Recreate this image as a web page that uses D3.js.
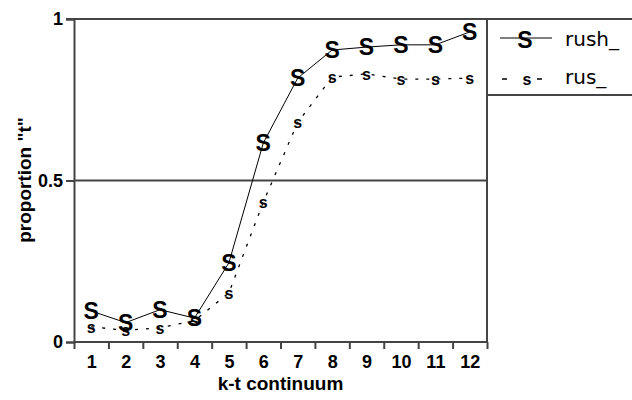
<!DOCTYPE html>
<html>
<head>
<meta charset="utf-8">
<script src="https://cdn.jsdelivr.net/npm/d3@7"></script>
<style>
  html, body { margin: 0; padding: 0; background: #fff; }
  svg { display: block; }
  .tick text { font-family: "Liberation Sans", Arial, sans-serif; font-weight: bold; font-size: 18px; fill: #000; }
</style>
</head>
<body>
<svg id="chart" width="632" height="400"></svg>
<script>
// Continuum steps and identification proportions for each word
const steps = [1, 2, 3, 4, 5, 6, 7, 8, 9, 10, 11, 12];
const rush = [0.096, 0.06, 0.10, 0.074, 0.245, 0.616, 0.817, 0.904, 0.913, 0.92, 0.92, 0.96];
const rus  = [0.047, 0.036, 0.044, 0.066, 0.152, 0.433, 0.68, 0.82, 0.83, 0.814, 0.814, 0.817];
const yTicks = [0, 0.5, 1];
const seriesNames = ["rush_", "rus_"];

const svg = d3.select("#chart");
const plotLeft = 74, plotRight = 487, plotTop = 19, plotBottom = 342;
const axisColor = "#444";
const bold = "'Liberation Sans', Arial, sans-serif";

const x = d3.scaleLinear().domain([0.5, 12.5]).range([plotLeft, plotRight]);
const y = d3.scaleLinear().domain([0, 1]).range([plotBottom, plotTop]);

// Frame: top rule runs across the legend, right border, legend bottom
svg.append("line").attr("x1", plotLeft - 8).attr("x2", 632).attr("y1", plotTop).attr("y2", plotTop)
  .attr("stroke", axisColor).attr("stroke-width", 2);
svg.append("line").attr("x1", plotRight).attr("x2", plotRight).attr("y1", plotTop).attr("y2", plotBottom)
  .attr("stroke", axisColor).attr("stroke-width", 2);
svg.append("line").attr("x1", plotRight).attr("x2", 632).attr("y1", 95).attr("y2", 95)
  .attr("stroke", axisColor).attr("stroke-width", 2);
// Midline at 0.5
svg.append("line").attr("x1", plotLeft).attr("x2", plotRight).attr("y1", y(0.5)).attr("y2", y(0.5))
  .attr("stroke", axisColor).attr("stroke-width", 2);

// Y axis
const yAxis = svg.append("g").attr("transform", `translate(${plotLeft},0)`)
  .call(d3.axisLeft(y).tickValues(yTicks).tickSize(8).tickPadding(3)
    .tickFormat(d => d === 0.5 ? "0.5" : d3.format("d")(d)));
yAxis.select(".domain").attr("stroke", axisColor).attr("stroke-width", 2);
yAxis.selectAll(".tick line").attr("stroke", axisColor).attr("stroke-width", 2);

// X axis: tick marks on step boundaries, labels on steps
const xMarks = svg.append("g").attr("transform", `translate(0,${plotBottom})`)
  .call(d3.axisBottom(x).tickValues(d3.range(0.5, 13, 1)).tickSize(7).tickFormat(""));
xMarks.select(".domain").attr("stroke", axisColor).attr("stroke-width", 2).attr("d", `M${plotLeft},0H${plotRight}`);
xMarks.selectAll(".tick line").attr("stroke", axisColor).attr("stroke-width", 2);

const xLabels = svg.append("g").attr("transform", `translate(0,${plotBottom})`)
  .call(d3.axisBottom(x).tickValues(steps).tickSize(0).tickPadding(13).tickFormat(d3.format("d")));
xLabels.select(".domain").remove();

// Axis titles
svg.append("text").attr("x", (plotLeft + plotRight) / 2).attr("y", 390)
  .attr("text-anchor", "middle").attr("font-family", bold).attr("font-weight", "bold")
  .attr("font-size", 19).text("k-t continuum");
svg.append("text").attr("transform", "translate(31,180) rotate(-90)")
  .attr("text-anchor", "middle").attr("font-family", bold).attr("font-weight", "bold")
  .attr("font-size", 19).text("proportion \"t\"");

// Lines
const line = d3.line().x((d, i) => x(steps[i])).y(d => y(d));
svg.append("path").datum(rus).attr("d", line).attr("fill", "none")
  .attr("stroke", "#000").attr("stroke-width", 1.3).attr("stroke-dasharray", "3,8");
svg.append("path").datum(rush).attr("d", line).attr("fill", "none")
  .attr("stroke", "#000").attr("stroke-width", 1);

// Letter markers
svg.append("g").selectAll("text").data(rus).join("text")
  .attr("x", (d, i) => x(steps[i])).attr("y", d => y(d)).attr("dy", "0.36em")
  .attr("text-anchor", "middle").attr("font-family", bold).attr("font-weight", "bold")
  .attr("font-size", 16).text("s");
svg.append("g").selectAll("text").data(rush).join("text")
  .attr("x", (d, i) => x(steps[i])).attr("y", d => y(d)).attr("dy", "0.36em")
  .attr("text-anchor", "middle").attr("font-family", bold).attr("font-weight", "bold")
  .attr("font-size", 23).text("S");

// Legend
const lg = svg.append("g");
lg.append("line").attr("x1", 500).attr("x2", 552).attr("y1", 38).attr("y2", 38)
  .attr("stroke", "#000").attr("stroke-width", 1);
lg.append("text").attr("x", 525).attr("y", 40).attr("dy", "0.36em").attr("text-anchor", "middle")
  .attr("font-family", bold).attr("font-weight", "bold").attr("font-size", 23).text("S");
lg.append("line").attr("x1", 502).attr("x2", 542).attr("y1", 79).attr("y2", 79)
  .attr("stroke", "#000").attr("stroke-width", 1.5).attr("stroke-dasharray", "5,30,5");
lg.append("text").attr("x", 527).attr("y", 79).attr("dy", "0.36em").attr("text-anchor", "middle")
  .attr("font-family", bold).attr("font-weight", "bold").attr("font-size", 16).text("s");
lg.selectAll("text.name").data(seriesNames).join("text").attr("class", "name")
  .attr("x", 565).attr("y", (d, i) => i === 0 ? 46 : 84)
  .attr("font-family", "'DejaVu Sans', Tahoma, sans-serif").attr("font-size", 20).text(d => d);
</script>
</body>
</html>
